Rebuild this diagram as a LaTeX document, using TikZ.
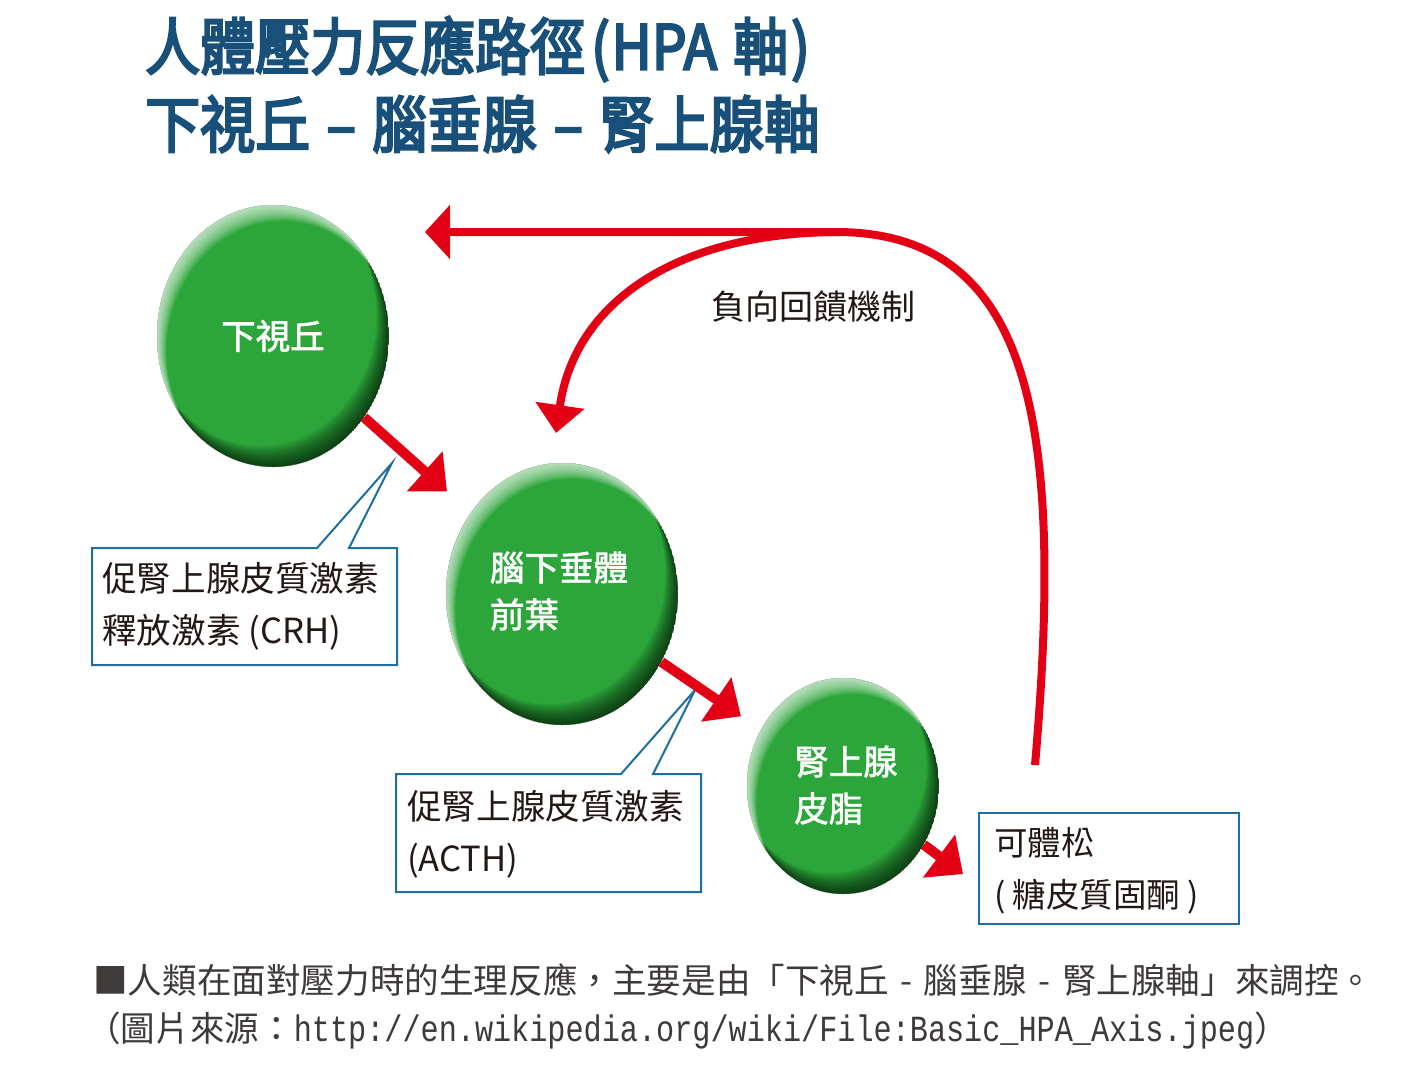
\documentclass[tikz,border=0pt]{standalone}
\usepackage{fontspec}
\usetikzlibrary{arrows.meta,shapes.geometric}
\newfontfamily\cjk{Noto Sans CJK TC}
\newfontfamily\cjkmed{Noto Sans CJK TC}[FakeBold=2]
\newfontfamily\cjktitle{Noto Sans CJK TC}[FakeBold=4]
\newfontfamily\monofnt{Liberation Mono}
\definecolor{titleblue}{RGB}{24,80,122}
\definecolor{ballgreen}{RGB}{44,166,58}
\definecolor{hpared}{RGB}{228,0,20}
\definecolor{boxblue}{RGB}{30,110,160}
\definecolor{inkblack}{RGB}{35,24,21}
\definecolor{capgray}{RGB}{62,58,57}
% name, cx, cy, rx, ry
\newcommand\hpaball[5]{%
  \begin{scope}
    \clip (#2,#3) ellipse [x radius=#4pt, y radius=#5pt];
    \fill[ballgreen] (#2,#3) ellipse [x radius=#4pt, y radius=#5pt];
    \foreach \d in {1.5,3,...,21}{%
      \fill[black,opacity=0.06,even odd rule] (#2,#3) ellipse [x radius=#4pt, y radius=#5pt]
        (#2-0.6*\d,#3-\d) ellipse [x radius=#4pt, y radius=#5pt];}
    \foreach \d in {1,2,...,16}{%
      \fill[white,opacity=0.065,even odd rule] (#2,#3) ellipse [x radius=#4pt, y radius=#5pt]
        (#2+0.6*\d,#3+\d) ellipse [x radius=#4pt, y radius=#5pt];}
  \end{scope}
  \node[ellipse, draw=none, inner sep=0pt, minimum width=2*#4pt, minimum height=2*#5pt] (#1) at (#2,#3) {};
}
\begin{document}
\begin{tikzpicture}[x=1pt,y=-1pt,
  redarrow/.style={draw=hpared, line width=10pt, -{Triangle[length=30pt,width=52pt]}},
  fbline/.style={draw=hpared, line width=8pt},
  callout/.style={draw=boxblue, line width=2pt, fill=white, line join=miter},
  titletext/.style={anchor=west, inner sep=0pt, text=titleblue, font=\cjktitle\fontsize{55}{60}\selectfont},
  balltext/.style={text=white, font=\cjkmed\fontsize{34.5}{47}\selectfont, align=left, inner sep=0pt},
  boxtext/.style={anchor=west, text=inkblack, font=\cjk\fontsize{34.6}{52}\selectfont, align=left, inner sep=0pt},
  captext/.style={anchor=west, text=capgray, font=\cjk\fontsize{34.6}{40}\selectfont, inner sep=0pt}
]
\useasboundingbox (0,0) rectangle (1407,1087);
\fill[white] (0,0) rectangle (1407,1087);

% title
\node[titletext] (title1) at (145,49) {\scalebox{1}[1.12]{人體壓力反應路徑\hspace{6pt}(\hspace{2pt}HPA\hspace{4pt} 軸\hspace{3pt})}};
\node[titletext] (title2) at (145,124) {\scalebox{1}[1.12]{下視丘\hspace{4pt} – \hspace{4pt}腦垂腺\hspace{4pt} – \hspace{4pt}腎上腺軸}};

% callouts
\draw[callout] (92,548) -- (317,548) -- (392,463) -- (349,548) -- (397,548) -- (397,665) -- (92,665) -- cycle;
\draw[callout] (396,774) -- (621,774) -- (695,690) -- (653,774) -- (701,774) -- (701,892) -- (396,892) -- cycle;
\node[draw=boxblue, line width=2pt, fill=white, minimum width=260pt, minimum height=111pt, inner sep=0pt] (cbox) at (1109,868.5) {};

\node[boxtext] (crh) at (102,606) {促腎上腺皮質激素\\釋放激素 (CRH)};
\node[boxtext] (acth) at (407,834) {促腎上腺皮質激素\\(ACTH)};
\node[boxtext, font=\cjk\fontsize{33.5}{52}\selectfont] (cort) at (994,871) {可體松\\(\hspace{7pt}糖皮質固酮\hspace{7pt})};

% balls
\hpaball{h}{273}{336}{116}{131}
\hpaball{p}{562}{594}{116}{131}
\hpaball{a}{843}{786}{96}{108}

\node[balltext] (htext) at (h.center) {下視丘};
\node[balltext] (ptext) at (559,591) {腦下垂體\\前葉};
\node[balltext] (atext) at (846,785) {腎上腺\\皮脂};

% red arrows
\coordinate (ctip) at (963,874);
\draw[redarrow, shorten >=32pt] (h) -- (p);
\draw[redarrow, shorten >=24pt] (p) -- (a);
\draw[redarrow] (a.-36) -- (ctip);

% feedback
\coordinate (fbstart) at (1035,765);
\coordinate (fbtop) at (840,232);
\coordinate (tip1) at (425,232);
\coordinate (tip2) at (556,433);
\draw[fbline, -{Triangle[length=25pt,width=53pt]}] (fbstart) .. controls (1065,420) and (1030,235) .. (fbtop) -- (tip1);
\draw[fbline, -{Triangle[length=28pt,width=48pt]}] (fbtop) .. controls (680,232) and (575,300) .. (tip2);
\node[text=inkblack, font=\cjk\fontsize{34}{40}\selectfont, inner sep=0pt] (fblabel) at (813.5,307) {負向回饋機制};

% caption
\node[captext] (cap1) at (93,980) {■人類在面對壓力時的生理反應，主要是由「下視丘\makebox[1em][c]{-}腦垂腺\makebox[1em][c]{-}腎上腺軸」來調控。};
\node[captext] (cap2) at (86,1030) {（圖片來源：{\monofnt\fontsize{30.2}{36}\selectfont\scalebox{1}[1.22]{http://en.wikipedia.org/wiki/File:Basic\_HPA\_Axis.jpeg}}）};
\end{tikzpicture}
\end{document}
